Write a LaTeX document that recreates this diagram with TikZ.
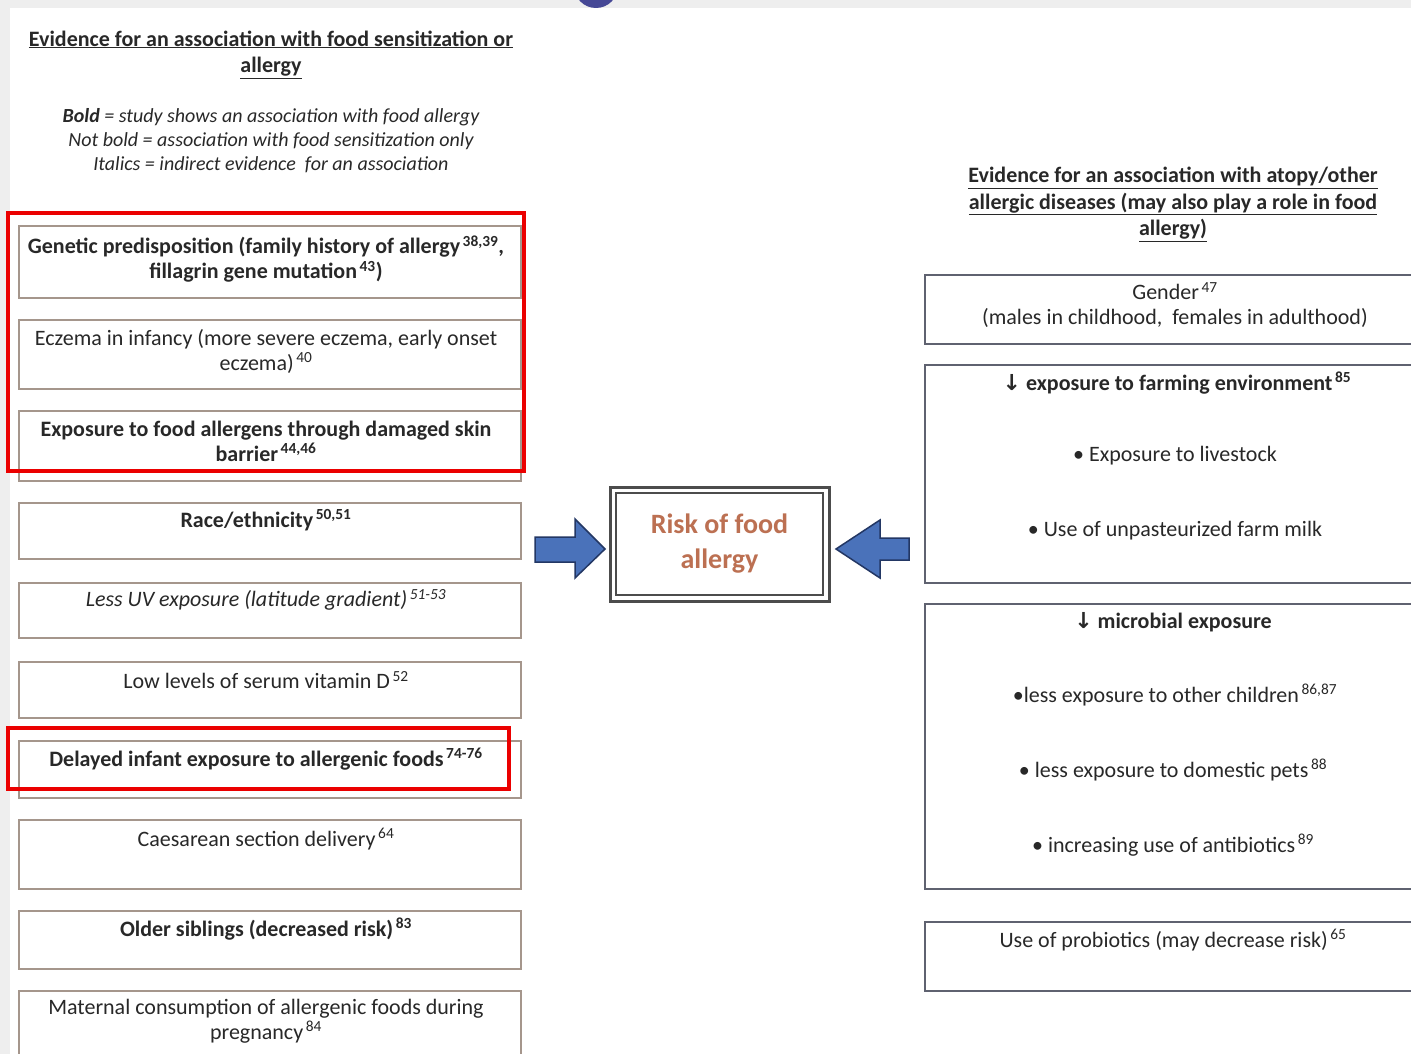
\documentclass[tikz,border=0pt]{standalone}
\usepackage{fontspec}
\setmainfont{Carlito}
\newfontfamily\arrowfont{DejaVu Sans}
\definecolor{txt}{RGB}{40,40,40}
\definecolor{lborder}{RGB}{165,150,140}
\definecolor{rborder}{RGB}{95,98,112}
\definecolor{redbox}{RGB}{235,0,0}
\definecolor{riskc}{RGB}{188,112,82}
\definecolor{arrowfill}{RGB}{74,114,186}
\definecolor{arrowedge}{RGB}{35,55,100}
\definecolor{frame}{RGB}{238,238,238}
\definecolor{dotc}{RGB}{70,72,150}
\newcommand{\sps}[1]{\textsuperscript{\,#1}}
\newcommand{\darr}{{\arrowfont\bfseries ↓}}
\begin{document}
\begin{tikzpicture}[x=1pt,y=-1pt,
  lbox/.style={draw=lborder, line width=1.5pt, fill=white, anchor=north west, minimum width=502pt, inner sep=0pt},
  rbox/.style={draw=rborder, line width=1.5pt, fill=white, anchor=north west, minimum width=520pt, inner sep=0pt},
  redframe/.style={draw=redbox, line width=4pt},
  btext/.style={text=txt, align=center, inner sep=0pt, font=\fontsize{22}{25}\selectfont},
  bbtext/.style={btext, font=\fontsize{22}{25}\selectfont\bfseries},
  htext/.style={text=txt, align=center, inner sep=0pt, font=\fontsize{22}{26.5}\selectfont\bfseries},
  ltext/.style={text=txt, align=center, inner sep=0pt, font=\fontsize{20}{24}\selectfont\itshape},
  blockarrow/.style={fill=arrowfill, draw=arrowedge, line width=1.5pt, line join=miter}
]
\useasboundingbox (0,0) rectangle (1411,1054);
\clip (0,0) rectangle (1411,1054);
% background and frame
\fill[frame] (0,0) rectangle (1411,1054);
\fill[white] (10,8) rectangle (1411,1054);
\fill[dotc] (596,-14) circle[radius=22];

% left header
\node[htext] (lhead) at (271,54.5) {\underline{Evidence for an association with food sensitization or}\\\underline{allergy}};
\node[ltext] (legend) at (271,141) {\textbf{Bold} = study shows an association with food allergy\\Not bold = association with food sensitization only\\Italics = indirect evidence\ \ for an association};

% left boxes
\node[lbox, minimum height=72pt] (b1) at (18,225) {};
\node[lbox, minimum height=69pt] (b2) at (18,319) {};
\node[lbox, minimum height=70pt] (b3) at (18,410) {};
\node[lbox, minimum height=56pt] (b4) at (18,502) {};
\node[lbox, minimum height=55pt] (b5) at (18,582) {};
\node[lbox, minimum height=56pt] (b6) at (18,661) {};
\node[lbox, minimum height=57pt] (b7) at (18,740) {};
\node[lbox, minimum height=69pt] (b8) at (18,819) {};
\node[lbox, minimum height=58pt] (b9) at (18,910) {};
\node[lbox, minimum height=80pt] (b10) at (18,990) {};

\node[bbtext] (t1) at (266,259) {Genetic predisposition (family history of allergy\sps{38,39},\\fillagrin gene mutation\sps{43})};
\node[btext] (t2) at (266,351) {Eczema in infancy (more severe eczema, early onset\\eczema)\sps{40}};
\node[bbtext] (t3) at (266,441) {Exposure to food allergens through damaged skin\\barrier\sps{44,46}};
\node[bbtext] (t4) at (266,520) {Race/ethnicity\sps{50,51}};
\node[btext, font=\fontsize{22}{25}\selectfont\itshape] (t5) at (266,600) {Less UV exposure (latitude gradient)\sps{51-53}};
\node[btext] (t6) at (266,680) {Low levels of serum vitamin D\sps{52}};
\node[bbtext] (t7) at (266,759) {Delayed infant exposure to allergenic foods\sps{74-76}};
\node[btext] (t8) at (266,839) {Caesarean section delivery\sps{64}};
\node[bbtext] (t9) at (266,929) {Older siblings (decreased risk)\sps{83}};
\node[btext] (t10) at (266,1021) {Maternal consumption of allergenic foods during\\pregnancy\sps{84}};

% red highlight frames
\draw[redframe] (8,213) rectangle (524,471);
\draw[redframe] (8,728) rectangle (509,789);

% centre box
\node[draw=black!70, line width=3pt, minimum width=219pt, minimum height=114pt, inner sep=0pt] (risk) at (719.5,544) {};
\node[draw=black!70, line width=1.2pt, minimum width=207pt, minimum height=102pt, inner sep=0pt] (riskin) at (risk.center) {};
\node[text=riskc, align=center, inner sep=0pt, font=\fontsize{28}{35}\selectfont\bfseries] (risktext) at (719.5,544) {Risk of food\\allergy};

% block arrows
\draw[blockarrow] (535,537) -- (575,537) -- (575,519) -- (605,549) -- (575,578) -- (575,562) -- (535,562) -- cycle;
\draw[blockarrow] (909,538) -- (880,538) -- (880,520) -- (836,549) -- (880,578) -- (880,560) -- (909,560) -- cycle;

% right header
\node[htext] (rhead) at (1173,204.5) {\underline{Evidence for an association with atopy/other}\\\underline{allergic diseases (may also play a role in food}\\\underline{allergy)}};

% right boxes
\node[rbox, minimum height=69pt] (r1) at (924,274) {};
\node[rbox, minimum height=218pt] (r2) at (924,364) {};
\node[rbox, minimum height=285pt] (r3) at (924,603) {};
\node[rbox, minimum height=69pt] (r4) at (924,921) {};

\node[btext] (g1) at (1175,305) {Gender\sps{47}\\(males in childhood,\ \ females in adulthood)};
\node[bbtext] (f0) at (1177,383) {\darr\ exposure to farming environment\sps{85}};
\node[btext] (f1) at (1175,456) {\textbullet\ Exposure to livestock};
\node[btext] (f2) at (1175,531) {\textbullet\ Use of unpasteurized farm milk};
\node[bbtext] (m0) at (1173,622) {\darr\ microbial exposure};
\node[btext] (m1) at (1175,695) {\textbullet less exposure to other children\sps{86,87}};
\node[btext] (m2) at (1173,770) {\textbullet\ less exposure to domestic pets\sps{88}};
\node[btext] (m3) at (1173,845) {\textbullet\ increasing use of antibiotics\sps{89}};
\node[btext] (p1) at (1173,940) {Use of probiotics (may decrease risk)\sps{65}};
\end{tikzpicture}
\end{document}
